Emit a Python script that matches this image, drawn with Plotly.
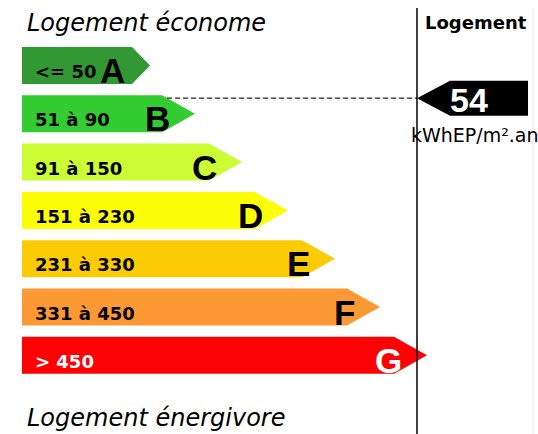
import plotly.graph_objects as go

# energy classes of the label (DPE)
classes = ["A", "B", "C", "D", "E", "F", "G"]
range_labels = ["<= 50", "51 à 90", "91 à 150", "151 à 230", "231 à 330", "331 à 450", "> 450"]
lower_bounds = [0, 51, 91, 151, 231, 331, 451]
upper_bounds = [50, 90, 150, 230, 330, 450, 600]
class_colors = ["#319834", "#33cc31", "#cbfc34", "#fbfe06", "#fbcc05", "#fc9935", "#fc0205"]
text_colors = ["black", "black", "black", "black", "black", "black", "white"]
label_colors = ["black", "black", "black", "black", "black", "black", "white"]
# arrow length of each class (in the picture's units)
arrow_length = [150, 195, 242, 288, 335, 380, 427]

value = 54
unit = "kWhEP/m².an"
top_title = "Logement économe"
bottom_title = "Logement énergivore"
panel_title = "Logement"

W, H = 538, 434
X0 = 22           # left edge of the arrows
TOP0 = 47         # top of first arrow
STEP = 48.3
BAR_H = 37
DIVIDER = 417

fig = go.Figure()
annotations = []

for i, cls in enumerate(classes):
    top = TOP0 + i * STEP
    bot = top + BAR_H
    mid = (top + bot) / 2
    tip = arrow_length[i]
    head = 18 if i == 0 else 33
    end = tip - head
    fig.add_trace(go.Scatter(
        x=[X0, end, tip, end, X0, X0],
        y=[top, top, mid, bot, bot, top],
        mode="lines", fill="toself", fillcolor=class_colors[i],
        line=dict(width=0), hoverinfo="skip", showlegend=False,
    ))
    annotations.append(dict(
        x=X0 + 11, y=mid + 6, text=range_labels[i], showarrow=False,
        xanchor="left", yanchor="middle",
        font=dict(family="DejaVu Sans", size=18, color=label_colors[i], weight="bold"),
    ))
    annotations.append(dict(
        x=tip - 23, y=mid + 5, text=cls, showarrow=False,
        xanchor="right", yanchor="middle",
        font=dict(family="Liberation Sans", size=35, color=text_colors[i], weight="bold"),
    ))

# position of the value inside its class band
idx = next(i for i in range(len(classes)) if value <= upper_bounds[i])
top = TOP0 + idx * STEP
frac = (value - lower_bounds[idx]) / (upper_bounds[idx] - lower_bounds[idx])
vy = top + frac * BAR_H
tip = arrow_length[idx]
head = 18 if idx == 0 else 33
end = tip - head
x_edge = end + (vy - top) / (BAR_H / 2) * head

fig.add_trace(go.Scatter(
    x=[x_edge, DIVIDER], y=[vy, vy], mode="lines",
    line=dict(color="#222222", width=1.3, dash="5px,3px"),
    hoverinfo="skip", showlegend=False,
))

# black value marker
fig.add_trace(go.Scatter(
    x=[DIVIDER, DIVIDER + 33, 528, 528, DIVIDER + 33, DIVIDER],
    y=[vy, vy - 17.5, vy - 17.5, vy + 17.5, vy + 17.5, vy],
    mode="lines", fill="toself", fillcolor="black",
    line=dict(width=0), hoverinfo="skip", showlegend=False,
))
annotations.append(dict(
    x=469, y=vy + 2, text=str(value), showarrow=False,
    xanchor="center", yanchor="middle",
    font=dict(family="Liberation Sans", size=34, color="white", weight="bold"),
))
annotations.append(dict(
    x=409, y=vy + 37, text=unit, showarrow=False,
    xanchor="left", yanchor="middle",
    font=dict(family="DejaVu Sans", size=19, color="black"),
))

annotations += [
    dict(x=25, y=23, text=top_title, showarrow=False, xanchor="left", yanchor="middle",
         font=dict(family="DejaVu Sans", size=24, color="black", style="italic")),
    dict(x=25, y=418, text=bottom_title, showarrow=False, xanchor="left", yanchor="middle",
         font=dict(family="DejaVu Sans", size=24, color="black", style="italic")),
    dict(x=476, y=22, text=panel_title, showarrow=False, xanchor="center", yanchor="middle",
         font=dict(family="DejaVu Sans", size=18, color="black", weight="bold")),
]

fig.update_layout(
    width=W, height=H,
    margin=dict(l=0, r=0, t=0, b=0),
    paper_bgcolor="white", plot_bgcolor="white",
    xaxis=dict(range=[0, W], visible=False, fixedrange=True),
    yaxis=dict(range=[H, 0], visible=False, fixedrange=True),
    annotations=annotations,
    shapes=[
        dict(type="line", x0=DIVIDER, x1=DIVIDER, y0=8, y1=H, line=dict(color="black", width=1.5)),
        dict(type="line", x0=533, x1=533, y0=8, y1=H, line=dict(color="#ececec", width=1)),
    ],
)

# the page body has a default 8px margin; drop it so the figure fills the window
fig.write_html("out.html", config={"displayModeBar": False},
               post_script="document.body.style.margin = '0';")
